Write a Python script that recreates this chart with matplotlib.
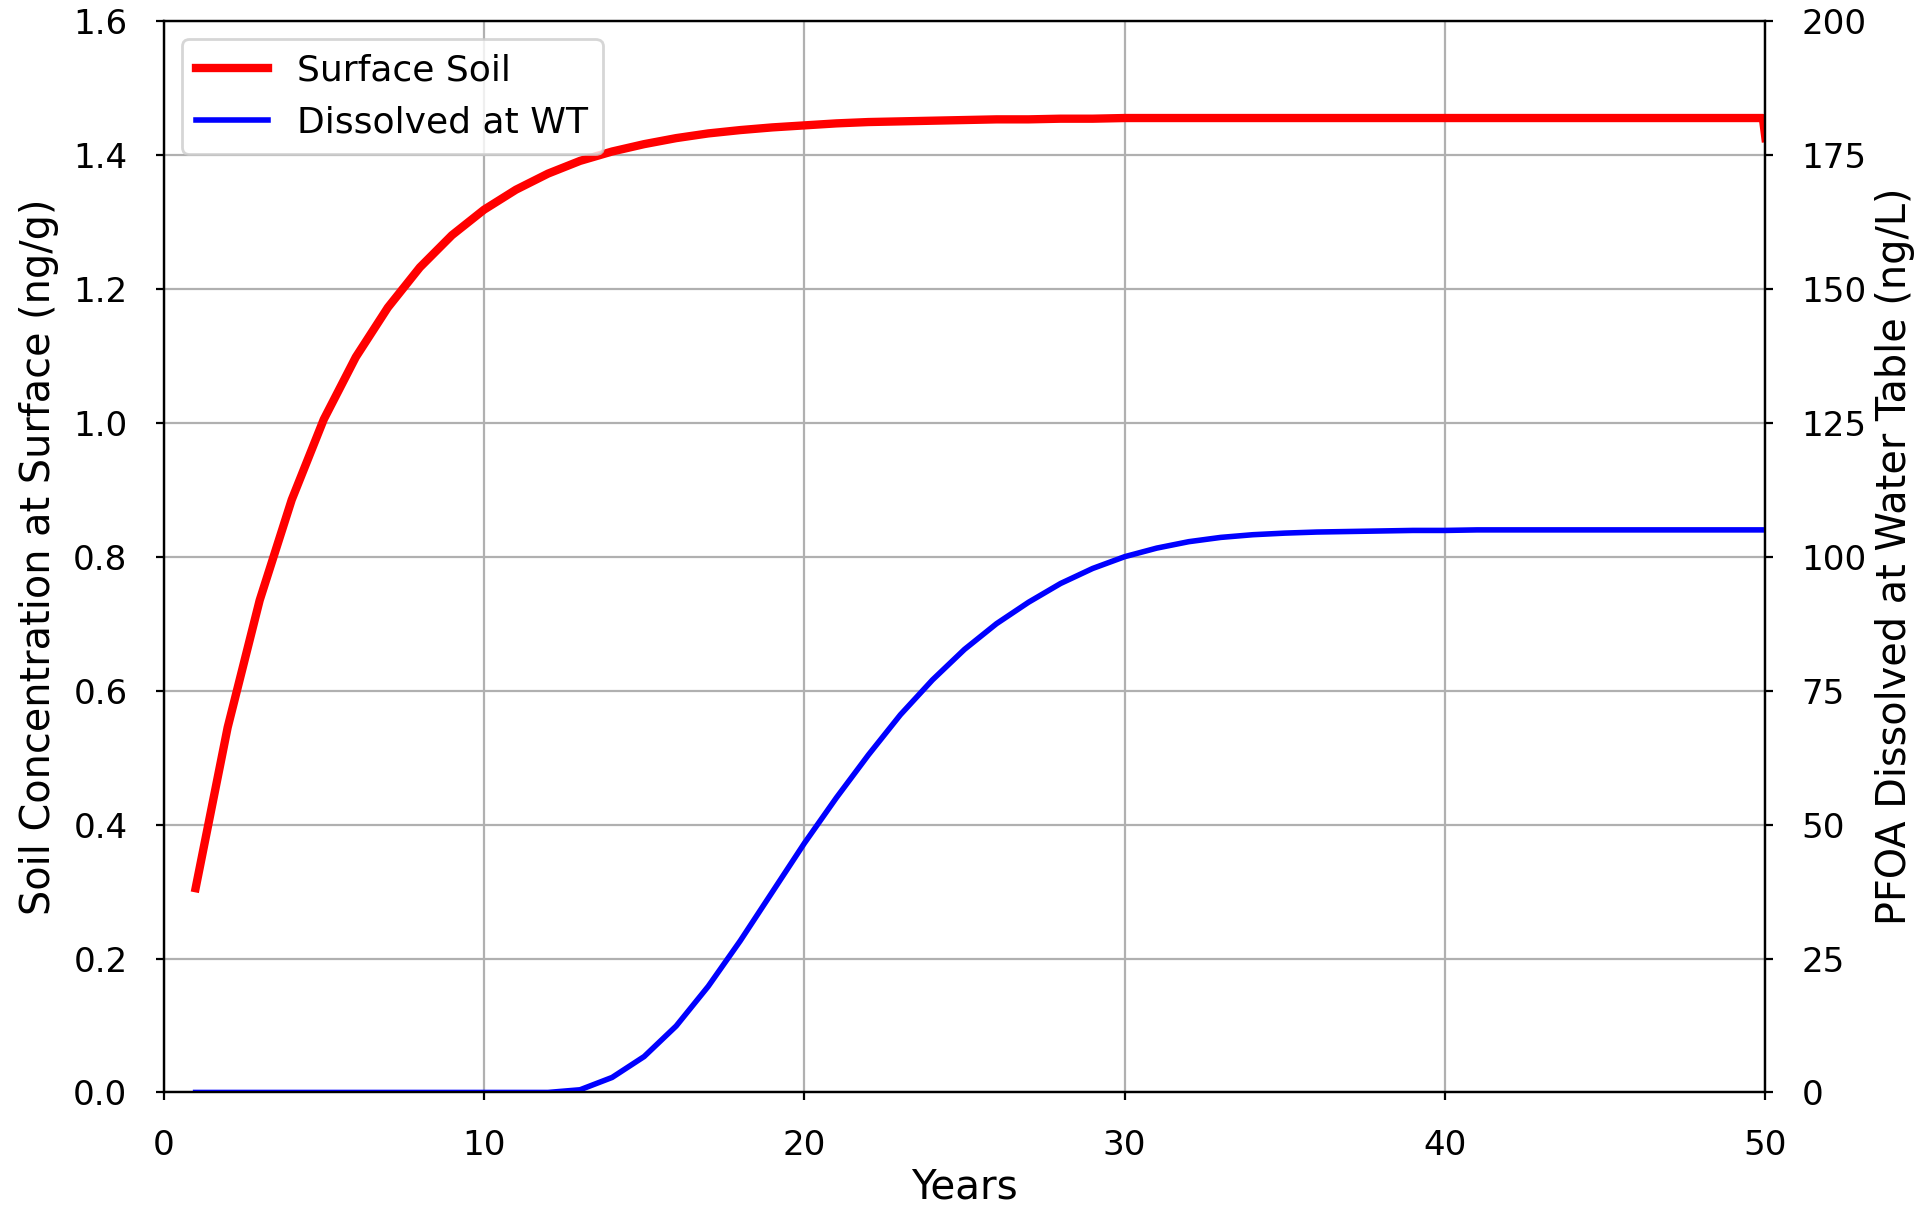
import numpy as np
import matplotlib
matplotlib.use("Agg")
import matplotlib.pyplot as plt

years = list(range(1, 51))

# Surface soil concentration (ng/g); the series has a last sample just
# before year 50 and a final sample at year 50
soil_years = list(range(1, 50)) + [49.92, 50.0]
surface_soil = [
    0.305, 0.545, 0.735, 0.885, 1.005, 1.098, 1.172, 1.232, 1.280, 1.318,
    1.348, 1.372, 1.391, 1.405, 1.416, 1.425, 1.432, 1.437, 1.441, 1.444,
    1.447, 1.449, 1.450, 1.451, 1.452, 1.453, 1.453, 1.454, 1.454, 1.455,
    1.455, 1.455, 1.455, 1.455, 1.455, 1.455, 1.455, 1.455, 1.455, 1.455,
    1.455, 1.455, 1.455, 1.455, 1.455, 1.455, 1.455, 1.455, 1.455, 1.455,
    1.425,
]

# PFOA dissolved at the water table (ng/L), one value per year
dissolved_wt = [
    0.0, 0.0, 0.0, 0.0, 0.0, 0.0, 0.0, 0.0, 0.0, 0.0,
    0.0, 0.0, 0.5, 2.8, 6.7, 12.4, 19.8, 28.3, 37.4, 46.5,
    55.0, 63.0, 70.5, 77.0, 82.7, 87.5, 91.5, 95.0, 97.8, 100.0,
    101.6, 102.8, 103.6, 104.1, 104.4, 104.6, 104.7, 104.8, 104.9, 104.9,
    105.0, 105.0, 105.0, 105.0, 105.0, 105.0, 105.0, 105.0, 105.0, 105.0,
]

left_ticks = [0.0, 0.2, 0.4, 0.6, 0.8, 1.0, 1.2, 1.4, 1.6]
right_ticks = [0, 25, 50, 75, 100, 125, 150, 175, 200]
x_ticks = [0, 10, 20, 30, 40, 50]

plt.rcParams["font.family"] = ["DejaVu Sans"]
plt.rcParams["font.size"] = 12
plt.rcParams["xtick.major.size"] = 3
plt.rcParams["ytick.major.size"] = 3
plt.rcParams["xtick.major.pad"] = 10
plt.rcParams["ytick.major.pad"] = 10
plt.rcParams["xtick.labelsize"] = 12.3
plt.rcParams["ytick.labelsize"] = 12.3

fig = plt.figure(figsize=(1929 / 200, 1209 / 200), dpi=200)
ax = fig.add_axes([0.0848, 0.0964, 0.8304, 0.8863])

l1, = ax.plot(soil_years, surface_soil, color="red", lw=3, label="Surface Soil")
ax.set_xlim(0, 50)
ax.set_ylim(0, 1.6)
ax.set_xticks(x_ticks)
ax.set_yticks(left_ticks)
ax.set_yticklabels([f"{v:.1f}" for v in left_ticks])
ax.set_xlabel("Years", fontsize=14.6, labelpad=2)
ax.set_ylabel("Soil Concentration at Surface (ng/g)", fontsize=14.3, labelpad=5)
ax.grid(True)

ax2 = ax.twinx()
l2, = ax2.plot(years, dissolved_wt, color="blue", lw=2, label="Dissolved at WT")
ax2.set_ylim(0, 200)
ax2.set_yticks(right_ticks)
ax2.set_ylabel("PFOA Dissolved at Water Table (ng/L)", fontsize=14.3, labelpad=3)

ax2.legend(handles=[l1, l2], loc="upper left", fontsize=13)

fig.savefig("out.png", dpi=200)
